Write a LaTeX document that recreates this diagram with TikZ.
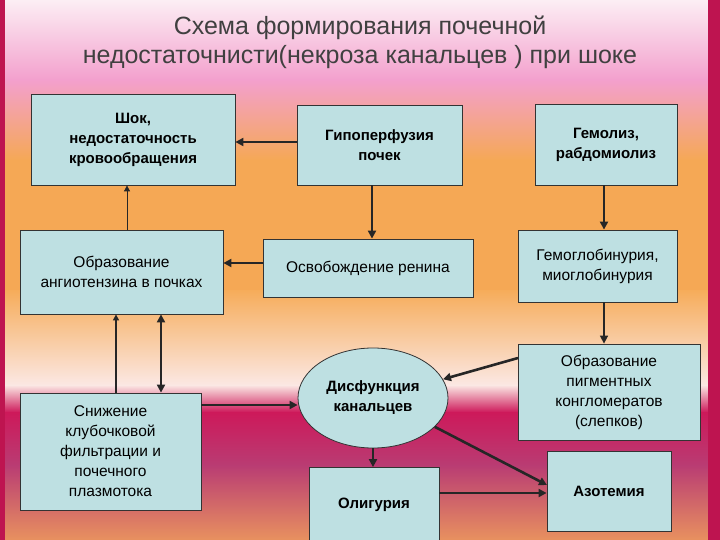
\documentclass[tikz,border=0pt]{standalone}
\usepackage{fontspec}
\setmainfont{Liberation Sans}
\usetikzlibrary{shapes.geometric,arrows.meta}
\definecolor{c0}{RGB}{252,238,244}
\definecolor{c1}{RGB}{243,160,205}
\definecolor{c2}{RGB}{245,168,85}
\definecolor{c3}{RGB}{246,172,90}
\definecolor{c4}{RGB}{251,232,228}
\definecolor{c5}{RGB}{205,25,90}
\definecolor{c6}{RGB}{185,60,115}
\definecolor{c7}{RGB}{232,145,95}
\definecolor{boxc}{RGB}{190,224,226}
\definecolor{edge}{RGB}{190,20,80}
\tikzset{bx/.style={draw=black!80,fill=boxc,line width=0.8pt,align=center,inner sep=2pt,font=\fontsize{15.5}{20}\selectfont},
 bb/.style={bx,font=\bfseries\fontsize{15}{20}\selectfont},
 ar/.style={-{Triangle[length=8pt,width=8pt]},line width=2.6pt,black!85},
 tn/.style={-{Triangle[length=6pt,width=6pt]},line width=0.8pt,black!85}}
\begin{document}
\begin{tikzpicture}[x=1pt,y=-1pt]
\useasboundingbox (0,0) rectangle (720,540);
\shade[top color=c0,bottom color=c1] (0,0) rectangle (720,80.5);
\shade[top color=c1,bottom color=c2] (0,80) rectangle (720,160.5);
\fill[c2] (0,160) rectangle (720,290.5);
\shade[top color=c3,bottom color=c4] (0,290) rectangle (720,385.5);
\shade[top color=c4,bottom color=c5] (0,385) rectangle (720,412.5);
\shade[top color=c5,bottom color=c6] (0,412) rectangle (720,465.5);
\shade[top color=c6,bottom color=c7] (0,465) rectangle (720,540);
\fill[edge] (0,0) rectangle (5,540);
\fill[edge] (708,0) rectangle (720,540);
\node[font=\fontsize{25}{29}\selectfont,text=black!75,align=center] (title) at (360,42) {Схема формирования почечной\\недостаточнисти(некроза  канальцев ) при  шоке};
\node[bb,minimum width=204pt,minimum height=91pt] (shock) at (133,139.5) {Шок,\\недостаточность\\кровообращения};
\node[bb,minimum width=165pt,minimum height=80pt] (hypo) at (379.5,145) {Гипоперфузия\\почек};
\node[bb,minimum width=142pt,minimum height=81pt] (hem) at (606,144.5) {Гемолиз,\\рабдомиолиз};
\node[bx,minimum width=203pt,minimum height=84pt] (ang) at (121.5,272) {Образование\\ангиотензина в почках};
\node[bx,minimum width=210pt,minimum height=58pt] (ren) at (368,268) {Освобождение ренина};
\node[bx,minimum width=159pt,minimum height=72pt] (hgb) at (597.5,266) {Гемоглобинурия,\\миоглобинурия};
\node[bx,minimum width=182pt,minimum height=96pt] (pig) at (609,392) {Образование\\пигментных\\конгломератов\\(слепков)};
\node[bb,ellipse,minimum width=150pt,minimum height=100pt,inner sep=0pt] (dys) at (373,398) {Дисфункция\\канальцев};
\node[bx,minimum width=181pt,minimum height=117pt] (gfr) at (110.5,451.5) {Снижение\\клубочковой\\фильтрации и\\почечного\\плазмотока};
\node[bb,minimum width=130pt,minimum height=75pt] (oli) at (374,505) {Олигурия};
\node[bb,minimum width=124pt,minimum height=80pt] (azo) at (609,491) {Азотемия};
\draw[ar] (hypo.west|-0,142) -- (shock.east|-0,142);
\draw[tn] (ang.north-|127,0) -- (shock.south-|127,0);
\draw[ar] (hypo.south-|372,0) -- (ren.north-|372,0);
\draw[ar] (ren.west|-0,263) -- (ang.east|-0,263);
\draw[ar] (hem.south-|604,0) -- (hgb.north-|604,0);
\draw[ar,line width=1.6pt] (hgb.south-|604,0) -- (pig.north-|604,0);
\coordinate (pa) at (518,358);
\draw[ar] (pa) -- (dys.15);
\draw[ar] (gfr.east|-0,405) -- (dys.west|-0,405);
\draw[tn,line width=1.4pt] (gfr.north-|116,0) -- (ang.south-|116,0);
\draw[ar,{Triangle[length=8pt,width=8pt]}-{Triangle[length=8pt,width=8pt]}] (gfr.north-|161,0) -- (ang.south-|161,0);
\draw[ar] (dys.south) -- (oli.north-|dys.south);
\coordinate (za) at (547,485);
\draw[ar] (dys.-25) -- (za);
\draw[ar] (oli.east|-0,493) -- (azo.west|-0,493);
\end{tikzpicture}
\end{document}
